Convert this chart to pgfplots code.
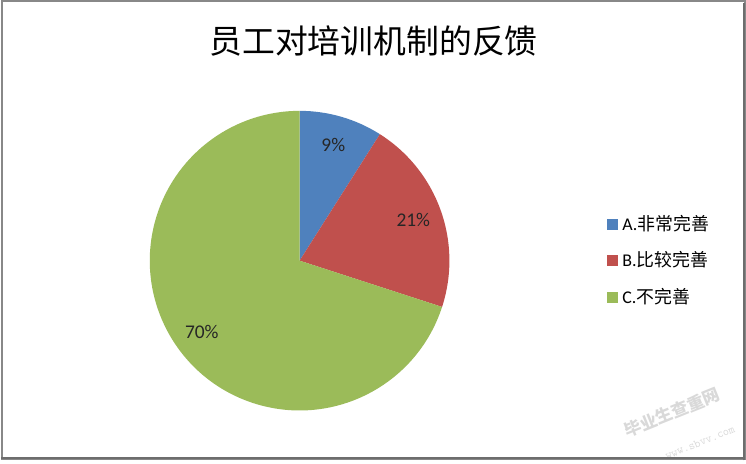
\documentclass[border=0pt]{standalone}
\usepackage{pgfplots}
\usepackage{pgfplotstable}
\pgfplotsset{compat=1.18}
\usetikzlibrary{calc}
\usepackage{fontspec}
\setmainfont{Carlito}
\newfontfamily\cjk{Noto Sans CJK SC}

\definecolor{sliceA}{HTML}{4F81BD}
\definecolor{sliceB}{HTML}{C0504D}
\definecolor{sliceC}{HTML}{9BBB59}
\definecolor{frame}{HTML}{888888}

% share of answers, percent
\pgfplotstableread{
label value
A 9
B 21
C 70
}\piedata

\begin{document}
\begin{tikzpicture}
% start angles / end angles of the slices, clockwise from 12 o'clock
\gdef\cum{90}
\foreach \i in {0,1,2}{
  \pgfplotstablegetelem{\i}{value}\of\piedata
  \expandafter\xdef\csname pv\i\endcsname{\pgfplotsretval}
  \pgfmathsetmacro\e{\cum-3.6*\pgfplotsretval}
  \pgfmathsetmacro\m{(\cum+\e)/2}
  \expandafter\xdef\csname ps\i\endcsname{\cum}
  \expandafter\xdef\csname pe\i\endcsname{\e}
  \expandafter\xdef\csname pm\i\endcsname{\m}
  \xdef\cum{\e}
}
\begin{axis}[
  at={(0,0)}, anchor=south west,
  scale only axis, width=746bp, height=461bp,
  xmin=0, xmax=746, ymin=0, ymax=461,
  hide axis, clip=false,
]
% pie
\pgfplotsinvokeforeach{0,1,2}{
  \fill[color=slice\ifcase#1 A\or B\else C\fi]
    (axis cs:299,200) -- ++(\csname ps#1\endcsname:150bp)
    arc[start angle=\csname ps#1\endcsname, end angle=\csname pe#1\endcsname, radius=150bp] -- cycle;
}
\pgfplotsinvokeforeach{0,1,2}{
  \node[font=\fontsize{19.5}{22}\selectfont, text=black!85]
    at ($(axis cs:299,200)+(\csname pm#1\endcsname:121bp)$) {\csname pv#1\endcsname\%};
}
% title
\node[font=\cjk\fontsize{33}{36}\selectfont] at (axis cs:373,420) {员工对培训机制的反馈};
% legend
\fill[sliceA] (axis cs:607,231) rectangle (axis cs:618,242);
\fill[sliceB] (axis cs:607,195) rectangle (axis cs:618,206);
\fill[sliceC] (axis cs:607,158) rectangle (axis cs:618,169);
\node[anchor=west, font=\fontsize{18}{20}\selectfont, inner sep=0pt] at (axis cs:622,237) {A.{\cjk 非常完善}};
\node[anchor=west, font=\fontsize{18}{20}\selectfont, inner sep=0pt] at (axis cs:622,201) {B.{\cjk 比较完善}};
\node[anchor=west, font=\fontsize{18}{20}\selectfont, inner sep=0pt] at (axis cs:622,164) {C.{\cjk 不完善}};
% watermark
\node[rotate=22, text=black!15, font=\cjk\bfseries\fontsize{17}{20}\selectfont] at (axis cs:672,48) {毕业生查重网};
\node[rotate=22, text=black!15, font=\ttfamily\fontsize{12}{14}\selectfont] at (axis cs:700,18) {www.sbvv.com};
% frame
\draw[frame, line width=2bp] (axis cs:1,1) rectangle (axis cs:745,460);
\draw[frame!80!black, line width=2bp] (axis cs:743.5,0) -- (axis cs:743.5,458);
\draw[frame!80!black, line width=2bp] (axis cs:0,2.5) -- (axis cs:745,2.5);
\end{axis}
\end{tikzpicture}
\end{document}
